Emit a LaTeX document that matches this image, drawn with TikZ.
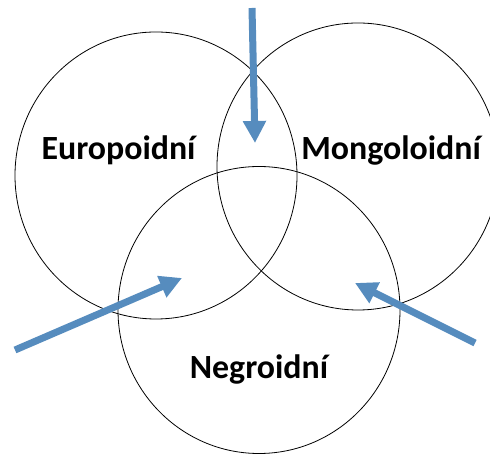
\documentclass[tikz,border=0pt]{standalone}
\usepackage{fontspec}
\setmainfont{Carlito}
\usetikzlibrary{arrows.meta, shapes.geometric}
\definecolor{arrowblue}{RGB}{86,140,190}

\begin{document}
\begin{tikzpicture}[x=1bp, y=1bp, >={Triangle[length=22bp, width=22bp]},
	race/.style={draw, ellipse, line width=0.8bp, minimum width=282bp, minimum height=287bp, inner sep=0pt},
	racename/.style={font=\bfseries\fontsize{34}{38}\selectfont, anchor=base, inner sep=0pt},
	pointer/.style={->, arrowblue, line width=7bp}]
		\clip (0,0) rectangle (490,454);
		
		\node[race] (eu) at (156,278.5) {};
		\node[race] (mo) at (358,287.5) {};
		\node[race] (ne) at (259,144) {};
		
		\node[racename] (euname) at (118.5,294) {Europoidní};
		\node[racename] (moname) at (391,294) {Mongoloidní};
		\node[racename] (nename) at (259,75) {Negroidní};
		
		\coordinate (toptail) at (252,446);
		\coordinate (toptip) at (255,311);
		\coordinate (lefttail) at (15,104);
		\coordinate (lefttip) at (182,176);
		\coordinate (righttail) at (475,111);
		\coordinate (righttip) at (355,171);
		
		\draw[pointer] (toptail) -- (toptip);
		\draw[pointer] (lefttail) -- (lefttip);
		\draw[pointer] (righttail) -- (righttip);
	\end{tikzpicture}
\end{document}
